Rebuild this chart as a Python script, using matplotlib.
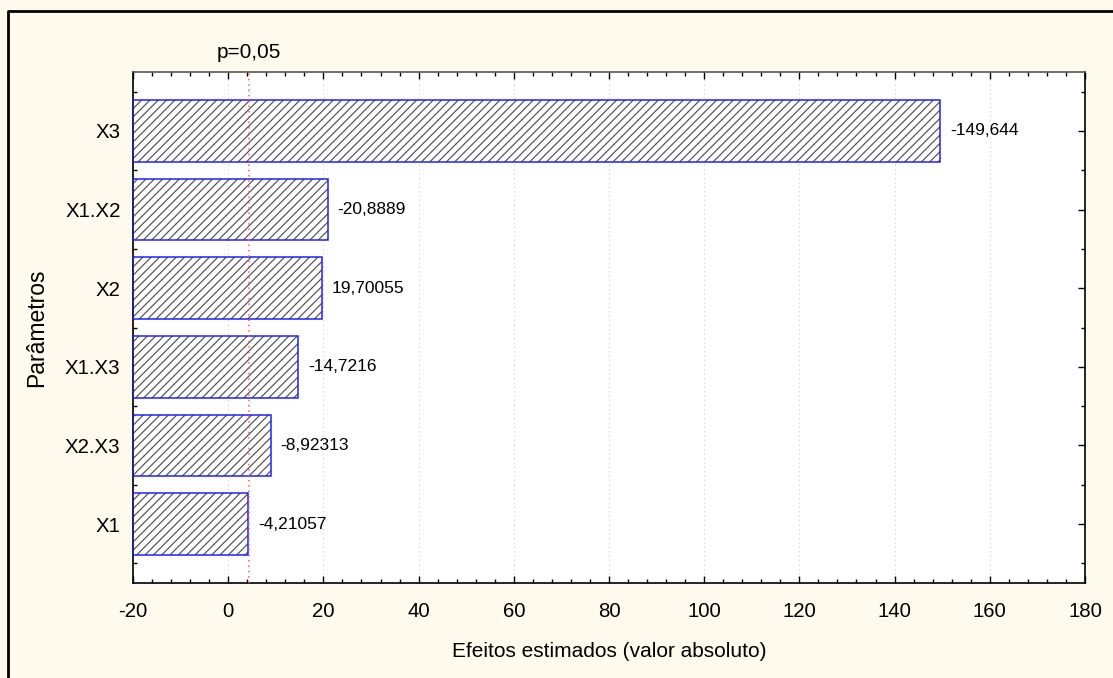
"""Pareto chart of standardized effects for the fitted parameters."""
import matplotlib
matplotlib.use('Agg')
import matplotlib.pyplot as plt
from matplotlib.lines import Line2D
from matplotlib.ticker import MultipleLocator, FixedLocator

# Parameters and their estimated effects (top to bottom)
parameters = ['X3', 'X1.X2', 'X2', 'X1.X3', 'X2.X3', 'X1']
effects = [-149.644, -20.8889, 19.70055, -14.7216, -8.92313, -4.21057]
effect_labels = ['-149,644', '-20,8889', '19,70055', '-14,7216', '-8,92313', '-4,21057']

# Critical value for p = 0.05
p_value_line = 4.303
p_label = 'p=0,05'

x_ticks = [-20, 0, 20, 40, 60, 80, 100, 120, 140, 160, 180]

# Style settings
plt.rcParams['font.family'] = ['Liberation Sans', 'DejaVu Sans']
plt.rcParams['hatch.color'] = '#505050'
plt.rcParams['hatch.linewidth'] = 0.85

tick_font = 14.7
value_font = 12.5

# Figure and axes
fig = plt.figure(figsize=(11.13, 6.78), dpi=100, facecolor='#fff9ee')
ax = fig.add_axes([0.1195, 0.1401, 0.8553, 0.7537])
ax.set_facecolor('white')

# Bars start at the left edge of the axis
x_min, x_max = -20, 180
positions = list(range(len(parameters)))[::-1]
lengths = [abs(v) - x_min for v in effects]

ax.barh(positions, lengths, left=x_min, height=0.785, color='white',
        hatch='////', edgecolor='#505050', linewidth=0, zorder=2)
ax.barh(positions, lengths, left=x_min, height=0.785, fill=False,
        edgecolor='#2020ff', linewidth=1.1, zorder=3)

# Value labels next to each bar
for pos, val, lab in zip(positions, effects, effect_labels):
    ax.annotate(lab, xy=(abs(val), pos), xytext=(7, 0),
                textcoords='offset points', va='center', ha='left',
                fontsize=value_font, color='black')

# Significance line
ax.axvline(p_value_line, color='#ff5a5a', ls=(0, (1, 2.5)), lw=1.1, zorder=4)
ax.text(p_value_line, 1.02, p_label, transform=ax.get_xaxis_transform(),
        ha='center', va='bottom', fontsize=15)

# Axis limits and ticks
ax.set_xlim(x_min, x_max)
ax.set_ylim(-0.75, len(parameters) - 0.25)
ax.xaxis.set_major_locator(FixedLocator(x_ticks))
ax.xaxis.set_minor_locator(MultipleLocator(4))
ax.set_xticklabels([str(t) for t in x_ticks], fontsize=tick_font)
ax.set_yticks(positions)
ax.set_yticklabels(parameters, fontsize=tick_font)
ax.yaxis.set_minor_locator(FixedLocator([p + 0.5 for p in range(-1, len(parameters))]))
ax.tick_params(which='both', direction='in', top=True, right=True,
               color='black', width=1)
ax.tick_params(which='major', length=5)
ax.tick_params(which='minor', length=3)
ax.tick_params(axis='x', which='major', pad=14)
ax.tick_params(axis='y', which='major', pad=9)

ax.grid(axis='x', which='major', color='#cccccc', ls=(0, (1, 3)), lw=0.8, zorder=1)

for side in ['left', 'bottom', 'right']:
    ax.spines[side].set_color('black')
    ax.spines[side].set_linewidth(1.2)
ax.spines['top'].set_color('#555555')
ax.spines['top'].set_linewidth(1.2)

ax.set_xlabel('Efeitos estimados (valor absoluto)', fontsize=15, labelpad=15)
ax.set_ylabel('Parâmetros', fontsize=16.5, labelpad=12)

# Frame around the figure (top and left edges)
fig.add_artist(Line2D([8 / 1113, 8 / 1113, 1.0], [0.0, 1 - 11 / 678, 1 - 11 / 678],
                      transform=fig.transFigure, color='black', lw=2))

fig.savefig('out.png', dpi=100, facecolor=fig.get_facecolor())
